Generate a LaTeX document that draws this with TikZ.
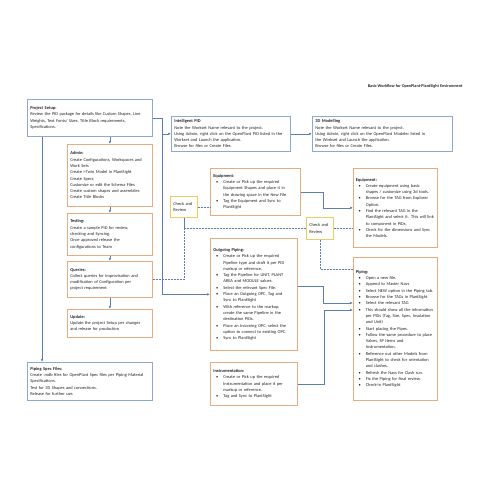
\documentclass[tikz,border=0pt]{standalone}
\usepackage{fontspec}
\setmainfont{Carlito}
\usepackage{enumitem}
\usetikzlibrary{arrows.meta}

\definecolor{boxblue}{RGB}{140,170,208}
\definecolor{boxorange}{RGB}{232,172,128}
\definecolor{boxyellow}{RGB}{238,204,96}
\definecolor{linkblue}{RGB}{92,126,180}
\definecolor{textgray}{RGB}{35,35,35}

\newcommand{\boxfont}{\fontsize{4.4}{6.3}\selectfont}
\newenvironment{pts}{\begin{itemize}[label=\textbullet, leftmargin=10pt, labelsep=5pt, itemsep=0pt, topsep=0pt, parsep=0pt, partopsep=0pt]}{\end{itemize}}

\tikzset{
  blubox/.style={draw=boxblue, line width=0.7pt, fill=white, anchor=north west, align=left, inner xsep=3pt, inner ysep=2.5pt, font=\boxfont, text=textgray},
  orbox/.style={blubox, draw=boxorange},
  chkbox/.style={blubox, draw=boxyellow},
  link/.style={draw=linkblue, line width=0.5pt, -{Latex[length=3pt,width=2.5pt]}},
  dotlink/.style={draw=linkblue, line width=0.5pt, densely dotted},
}

\begin{document}
\begin{tikzpicture}[x=1pt, y=-1pt]
\useasboundingbox[fill=white] (0,0) rectangle (495,495);

% Заголовок
\node[anchor=east, font=\bfseries\fontsize{4.2}{5}\selectfont, text=textgray] (titel) at (466,86) {Basic Workflow for OpenPlant-PlantSight Environment};

% Левая колонка
\node[blubox, text width=119pt, minimum height=37pt] (setup) at (27,99) {\textbf{Project Setup:}\\Review the PID package for details like Custom Shapes, Line\\Weights, Text Fonts/ Sizes, Title Block requirements,\\Specifications.};
\node[orbox, text width=79pt, minimum height=62pt] (admin) at (67,144) {\textbf{Admin:}\\Create Configurations, Workspaces and\\Work Sets\\Create i-Twin Model in PlantSight\\Create Specs\\Customize or edit the Schema Files\\Create custom shapes and assemblies\\Create Title Blocks};
\node[orbox, text width=79pt, minimum height=42pt] (testing) at (67,213) {\textbf{Testing:}\\Create a sample PID for review,\\checking and Syncing.\\Once approved release the\\configurations to Team};
\node[orbox, text width=79pt, minimum height=36pt] (queries) at (67,261) {\textbf{Queries:}\\Collect queries for improvisation and\\modification of Configuration per\\project requirement};
\node[orbox, text width=79pt, minimum height=28pt] (update) at (67,309) {\textbf{Update:}\\Update the project Setup per changes\\and release for production};
\node[blubox, text width=119pt, minimum height=38pt] (specs) at (27,362) {\textbf{Piping Spec Files:}\\Create .mdb files for OpenPlant Spec files per Piping Material\\Specifications.\\Test for 3D Shapes and connections.\\Release for further use.};

% Средняя колонка
\node[blubox, text width=113pt, minimum height=35pt] (pid) at (171,116) {\textbf{Intelligent PID}\\Note the Workset Name relevant to the project.\\Using Admin, right click on the OpenPlant PID listed in the\\Workset and Launch the application.\\Browse for files or Create Files.};
\node[orbox, text width=84pt, minimum height=47pt] (eqm) at (210,168) {\textbf{Equipment:}
\begin{pts}
\item Create or Pick up the required\newline Equipment Shapes and place it in\newline the drawing space in the New File
\item Tag the Equipment and Sync to\newline PlantSight
\end{pts}};
\node[chkbox, text width=21pt, minimum height=21pt] (chkl) at (170,196) {Check and\\Review};
\node[orbox, text width=81pt, minimum height=112pt] (outpipe) at (210,238) {\textbf{Outgoing Piping:}
\begin{pts}
\item Create or Pick up the required\newline Pipeline type and draft it per PID\newline markup or reference.
\item Tag the Pipeline for UNIT, PLANT\newline AREA and MODULE values.
\item Select the relevant Spec File.
\item Place an Outgoing OPC, Tag and\newline Sync to PlantSight
\item With reference to the markup,\newline create the same Pipeline in the\newline destination PIDs.
\item Place an Incoming OPC, select the\newline option to connect to existing OPC.
\item Sync to PlantSight
\end{pts}};
\node[orbox, text width=81pt, minimum height=43pt] (instr) at (210,362) {\textbf{Instrumentation:}
\begin{pts}
\item Create or Pick up the required\newline Instrumentation and place it per\newline markup or reference.
\item Tag and Sync to PlantSight
\end{pts}};

% Правая колонка
\node[blubox, text width=134pt, minimum height=35pt] (model) at (312,116) {\textbf{3D Modelling}\\Note the Workset Name relevant to the project.\\Using Admin, right click on the OpenPlant Modeler listed in\\the Workset and Launch the application.\\Browse for files or Create Files.};
\node[chkbox, text width=21pt, minimum height=22pt] (chkr) at (306,217) {Check and\\Review};
\node[orbox, text width=79pt, inner xsep=2.5pt, minimum height=79pt] (eqr) at (353,168) {\textbf{Equipment:}
\begin{pts}
\item Create equipment using basic\newline shapes / customize using 3d tools.
\item Browse for the TAG from Explorer\newline Option.
\item Find the relevant TAG in the\newline PlantSight and select it. This will link\newline to component in PIDs.
\item Check for the dimensions and Sync\newline the Models.
\end{pts}};
\node[orbox, text width=79pt, inner xsep=2.5pt, minimum height=143pt] (piping) at (353,257) {\textbf{Piping:}
\begin{pts}
\item Open a new file.
\item Append to Master Navs
\item Select NEW option in the Piping tab.
\item Browse for the TAGs in PlantSight
\item Select the relevant TAG
\item This should show all the information\newline per PIDs (Tag, Size, Spec, Insulation\newline and Unit)
\item Start placing the Pipes.
\item Follow the same procedure to place\newline Valves, SP Items and\newline Instrumentation.
\item Reference out other Models from\newline PlantSight to check for orientation\newline and clashes.
\item Refresh the Navs for Clash run.
\item Fix the Piping for final review.
\item Check-in PlantSight
\end{pts}};

% Связи
\draw[link] (admin.north |- setup.south) -- (admin.north);
\draw[link] (admin) -- (testing);
\draw[link] (testing) -- (queries);
\draw[link] (queries) -- (update);
\draw[link] ([xshift=15pt]setup.south west) -- ([xshift=15pt]specs.north west);
\coordinate (razv) at ([xshift=10pt]setup.east);
\draw[link] (setup.east) -- (razv) |- (pid.west);
\draw[link] (razv) |- (outpipe.west);
\draw[link] (pid) -- (model);
\draw[link] (eqm.east) -- ++(23,0) |- (eqr.west);
\draw[link] ([yshift=8pt]outpipe.east) -- ++(26,0) |- ([yshift=-46pt]piping.north west);
\draw[link] (instr.east) -- ++(27,0) |- ([yshift=-53pt]piping.north west);

% Пунктирные линии проверки
\draw[dotlink] (queries.east) -| (chkl.south);
\draw[dotlink] (chkl.south) |- (chkr.west);
\draw[dotlink] (chkl.east) -- (chkl.east -| eqm.west);
\draw[dotlink] (chkr.east) -- (chkr.east -| eqr.west);
\draw[dotlink] (chkr.south) |- ([yshift=-12pt]piping.north west);
\end{tikzpicture}
\end{document}
